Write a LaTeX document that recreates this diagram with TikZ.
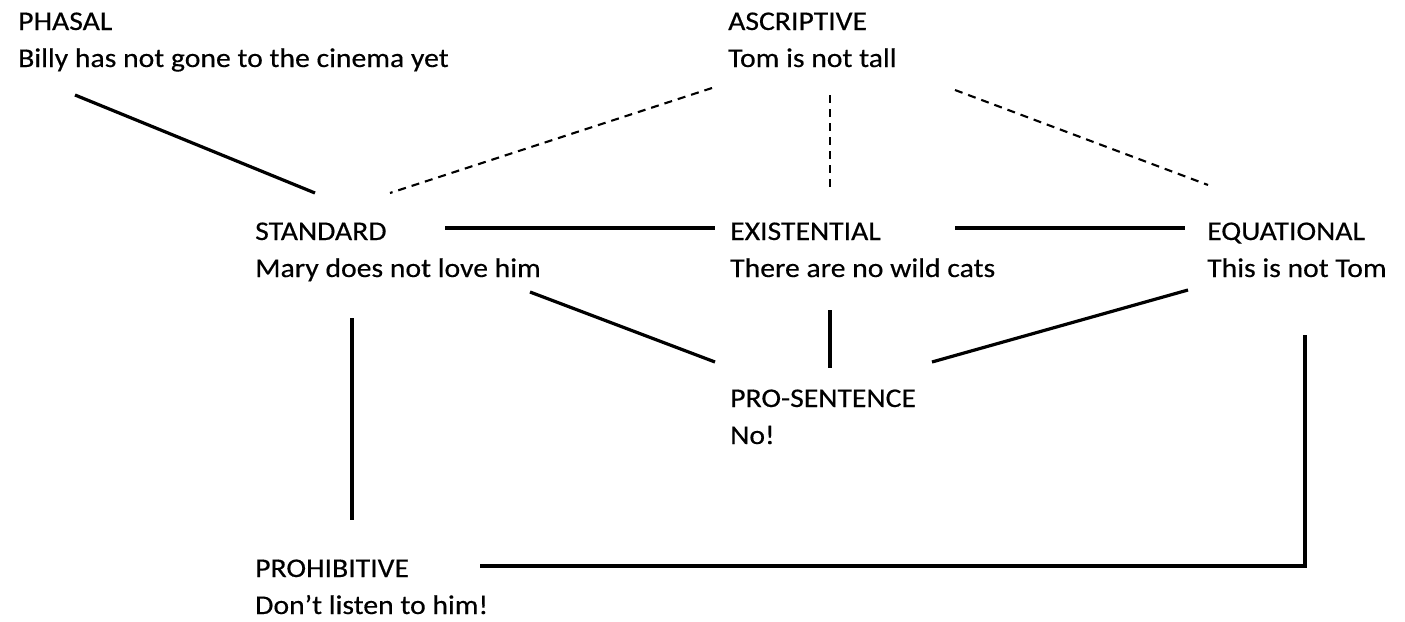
\documentclass[tikz,border=0pt]{standalone}
\usepackage{fontspec}
\setmainfont{Carlito}[FakeStretch=1.1,FakeBold=0.4]
\begin{document}
\begin{tikzpicture}[x=1pt,y=-1pt,
  concept/.style={anchor=base west,inner sep=0pt,font=\fontsize{27}{37}\selectfont},
  solidlink/.style={line width=3.2pt},
  dashlink/.style={line width=2.1pt,dash pattern=on 8pt off 6pt}]
\useasboundingbox (0,0) rectangle (1405,621);
\newcommand{\twoline}[2]{\begin{tabular}[t]{@{}l@{}}#1\\#2\end{tabular}}
% concepts
\node[concept] (phasal) at (18,30) {\twoline{PHASAL}{Billy has not gone to the cinema yet}};
\node[concept] (ascriptive) at (728,30) {\twoline{ASCRIPTIVE}{Tom is not tall}};
\node[concept] (standard) at (255,240) {\twoline{STANDARD}{Mary does not love him}};
\node[concept] (existential) at (730,240) {\twoline{EXISTENTIAL}{There are no wild cats}};
\node[concept] (equational) at (1207,240) {\twoline{EQUATIONAL}{This is not Tom}};
\node[concept] (prosentence) at (730,407) {\twoline{PRO-SENTENCE}{No!}};
\node[concept] (prohibitive) at (255,577) {\twoline{PROHIBITIVE}{Don’t listen to him!}};
% connector end points
\coordinate (phasal-s) at (75,95);
\coordinate (standard-nw) at (315,193);
\coordinate (standard-ne) at (390,193);
\coordinate (ascriptive-sw) at (712,88);
\coordinate (ascriptive-s) at (830,95);
\coordinate (existential-n) at (830,190);
\coordinate (ascriptive-se) at (955,90);
\coordinate (equational-nw) at (1208,185);
\coordinate (standard-e) at (445,228);
\coordinate (existential-w) at (715,228);
\coordinate (existential-e) at (955,228);
\coordinate (equational-w) at (1185,228);
\coordinate (standard-se) at (530,292);
\coordinate (prosentence-nw) at (715,362);
\coordinate (existential-s) at (830,310);
\coordinate (prosentence-n) at (830,368);
\coordinate (equational-sw) at (1188,290);
\coordinate (prosentence-ne) at (932,362);
\coordinate (standard-s) at (352,318);
\coordinate (prohibitive-n) at (352,520);
\coordinate (equational-s) at (1305,335);
\coordinate (prohibitive-e) at (480,566);
% connectors
\draw[solidlink] (phasal-s) -- (standard-nw);
\draw[dashlink] (ascriptive-sw) -- (standard-ne);
\draw[dashlink] (ascriptive-s) -- (existential-n);
\draw[dashlink] (ascriptive-se) -- (equational-nw);
\draw[solidlink] (standard-e) -- (existential-w);
\draw[solidlink] (existential-e) -- (equational-w);
\draw[solidlink] (standard-se) -- (prosentence-nw);
\draw[solidlink] (existential-s) -- (prosentence-n);
\draw[solidlink] (equational-sw) -- (prosentence-ne);
\draw[solidlink] (standard-s) -- (prohibitive-n);
\draw[solidlink] (equational-s) |- (prohibitive-e);
\end{tikzpicture}
\end{document}
